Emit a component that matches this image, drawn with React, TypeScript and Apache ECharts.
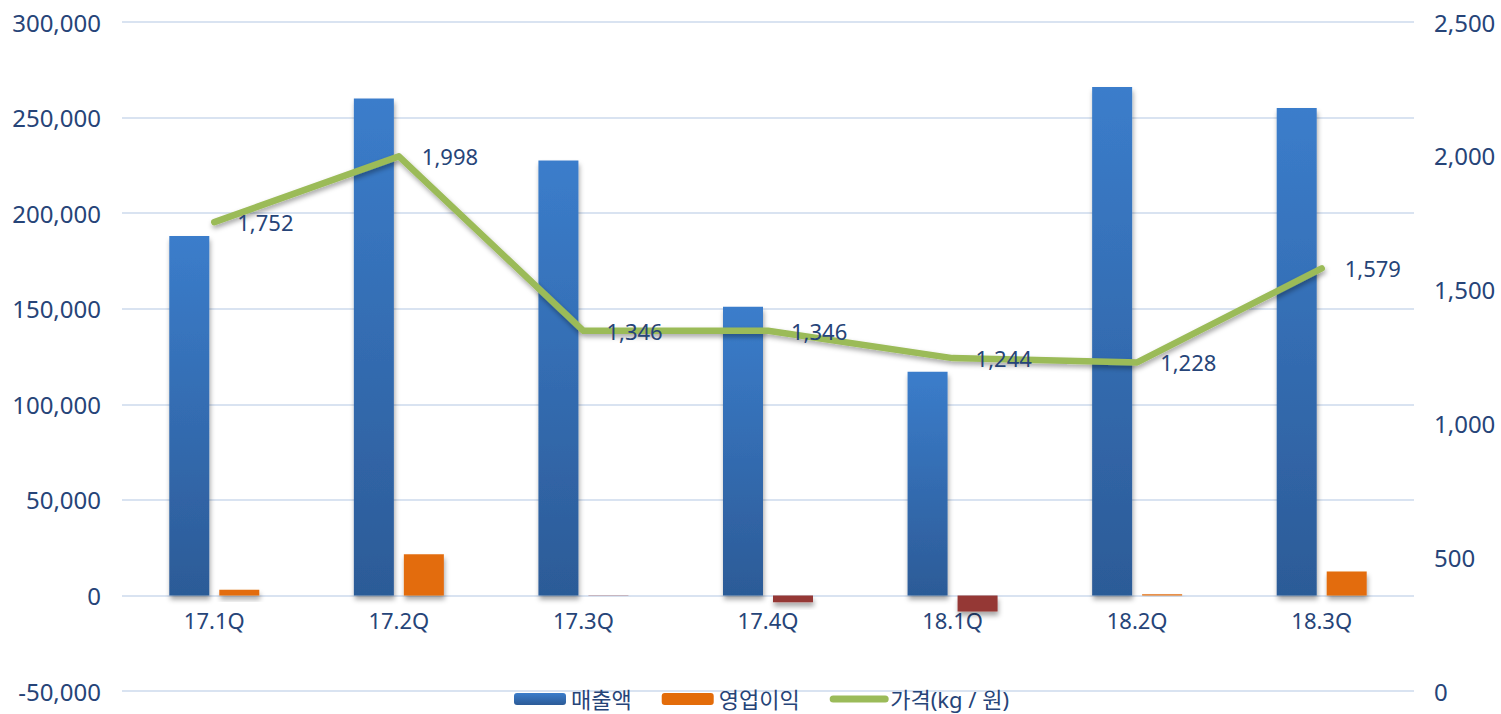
import React, { useEffect, useRef } from "react";
import * as echarts from "echarts";

const categories = ["17.1Q", "17.2Q", "17.3Q", "17.4Q", "18.1Q", "18.2Q", "18.3Q"];
const sales = [188000, 260000, 227500, 151000, 117000, 266000, 255000];
const operatingProfit = [3000, 21500, -200, -3600, -8400, 600, 12500];
const price = [1752, 1998, 1346, 1346, 1244, 1228, 1579];

const FONT = '"Noto Sans", "Noto Sans CJK KR", sans-serif';
const TEXT = "#264478";
const GRID = "#D9E3F1";

const fmt = (v: number) => v.toLocaleString("en-US");

// plot area in pixels
const PLOT_TOP = 22;
const PLOT_BOTTOM = 23;
const CHART_H = 714;
const Y_MIN = -50000;
const Y_MAX = 300000;

export default function App() {
  const ref = useRef<HTMLDivElement>(null);

  useEffect(() => {
    document.body.style.margin = "0";
    if (!ref.current) return;
    const chart = echarts.init(ref.current, undefined, { renderer: "svg" });

    const salesGradient = new echarts.graphic.LinearGradient(0, 0, 0, 1, [
      { offset: 0, color: "#3B7DCB" },
      { offset: 1, color: "#2C5B97" },
    ]);

    const shadow = {
      shadowColor: "rgba(0,0,0,0.35)",
      shadowBlur: 5,
      shadowOffsetY: 4,
      shadowOffsetX: 1,
    };

    // shift the category axis up from the grid bottom to the zero line
    const plotH = CHART_H - PLOT_TOP - PLOT_BOTTOM;
    const zeroShift = (plotH * (0 - Y_MIN)) / (Y_MAX - Y_MIN);

    chart.setOption({
      animation: false,
      backgroundColor: "#ffffff",
      textStyle: { fontFamily: FONT, color: TEXT },
      grid: {
        left: 122,
        right: 87,
        top: PLOT_TOP,
        bottom: PLOT_BOTTOM,
        containLabel: false,
        outerBoundsMode: "none",
      },
      legend: {
        top: 683,
        left: 509,
        itemWidth: 52,
        itemHeight: 12,
        itemGap: 30,
        textStyle: { fontFamily: FONT, fontSize: 22, color: TEXT },
        data: [
          "매출액",
          "영업이익",
          {
            name: "가격(kg / 원)",
            itemStyle: { opacity: 0 },
            lineStyle: { width: 7, cap: "round" },
          },
        ],
      },
      xAxis: {
        type: "category",
        data: categories,
        position: "bottom",
        offset: -zeroShift,
        axisLine: { show: false, onZero: false },
        axisTick: { show: false },
        axisLabel: { fontFamily: FONT, fontSize: 22, color: TEXT, margin: 14 },
      },
      yAxis: [
        {
          type: "value",
          min: Y_MIN,
          max: Y_MAX,
          interval: 50000,
          axisLine: { show: false },
          axisTick: { show: false },
          splitLine: { lineStyle: { color: GRID, width: 2 } },
          axisLabel: { fontFamily: FONT, fontSize: 24, color: TEXT, margin: 21, formatter: fmt },
        },
        {
          type: "value",
          min: 0,
          max: 2500,
          interval: 500,
          axisLine: { show: false },
          axisTick: { show: false },
          splitLine: { show: false },
          axisLabel: { fontFamily: FONT, fontSize: 24, color: TEXT, margin: 20, formatter: fmt },
        },
      ],
      series: [
        {
          name: "매출액",
          type: "bar",
          yAxisIndex: 0,
          barWidth: 40,
          barGap: "25%",
          data: sales,
          itemStyle: { color: salesGradient, ...shadow },
        },
        {
          name: "영업이익",
          type: "bar",
          yAxisIndex: 0,
          barWidth: 40,
          data: operatingProfit.map((v) => ({
            value: v,
            itemStyle: { color: v < 0 ? "#953735" : "#E36C0A" },
          })),
          itemStyle: { color: "#E36C0A", ...shadow },
        },
        {
          name: "가격(kg / 원)",
          type: "line",
          yAxisIndex: 1,
          data: price,
          symbol: "circle",
          symbolSize: 2,
          itemStyle: { color: "#9BBB59" },
          lineStyle: {
            color: "#9BBB59",
            width: 6.5,
            cap: "round",
            join: "round",
            shadowColor: "rgba(0,0,0,0.35)",
            shadowBlur: 5,
            shadowOffsetY: 3,
            shadowOffsetX: 1,
          },
          label: {
            show: true,
            position: "right",
            distance: 22,
            fontFamily: FONT,
            fontSize: 22,
            color: TEXT,
            formatter: (p: any) => fmt(Number(p.value)),
          },
          z: 5,
        },
      ],
    });

    return () => chart.dispose();
  }, []);

  return <div ref={ref} style={{ width: 1501, height: 714 }} />;
}
